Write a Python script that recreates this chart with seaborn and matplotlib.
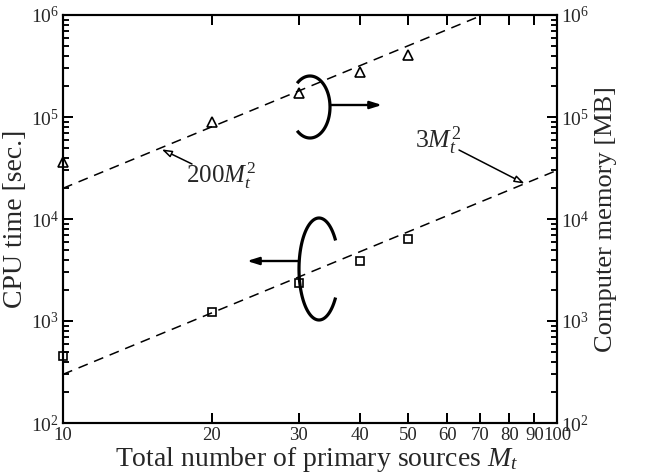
import numpy as np
import matplotlib
matplotlib.use("Agg")
import matplotlib.pyplot as plt
import seaborn as sns
from matplotlib.lines import Line2D

# ---- data ----
sources = [10, 20, 30, 40, 50]
cpu_time = [450, 1220, 2370, 3850, 6350]          # squares, left axis [sec.]
memory = [36500, 90000, 171000, 276000, 405000]   # triangles, right axis [MB]
fit_x = [10, 100]
cpu_fit = [300, 30000]        # 3 M_t^2
mem_fit = [20000, 2000000]    # 200 M_t^2
x_ticks = [10, 20, 30, 40, 50, 60, 70, 80, 90, 100]
x_tick_labels = ["10", "20", "30", "40", "50", "60", "70", "80", "90", "100"]
y_major = [1e2, 1e3, 1e4, 1e5, 1e6]
y_minor = [k * 10.0 ** e for e in range(2, 6) for k in range(2, 10)]

sns.set_style("ticks")
plt.rcParams['font.family'] = ['Liberation Serif', 'DejaVu Serif']
plt.rcParams['mathtext.fontset'] = 'custom'
plt.rcParams['mathtext.rm'] = 'Liberation Serif'
plt.rcParams['mathtext.it'] = 'Liberation Serif:italic'
plt.rcParams['mathtext.bf'] = 'Liberation Serif:bold'
plt.rcParams['axes.axisbelow'] = False

W, H = 656, 473
fig = plt.figure(figsize=(W / 100, H / 100), dpi=100)
ax = fig.add_axes([63 / W, 50 / H, 494 / W, 408 / H])
ax.set_xscale('log')
ax.set_yscale('log')
ax.set_xlim(10, 100)
ax.set_ylim(1e2, 1e6)

dash = (0, (6.5, 4.5))
sns.lineplot(x=fit_x, y=cpu_fit, ax=ax, color='black', lw=1.1, linestyle=dash)
sns.lineplot(x=sources, y=cpu_time, ax=ax, color='black', marker='s', linestyle='',
             markersize=6, markerfacecolor='none', markeredgecolor='black',
             markeredgewidth=1.2, clip_on=False)

ax2 = ax.twinx()
ax2.set_yscale('log')
ax2.set_ylim(1e2, 1e6)
sns.lineplot(x=fit_x, y=mem_fit, ax=ax2, color='black', lw=1.1, linestyle=dash)
sns.lineplot(x=sources, y=memory, ax=ax2, color='black', marker='^', linestyle='',
             markersize=6.5, markerfacecolor='none', markeredgecolor='black',
             markeredgewidth=1.2, clip_on=False)

# axis ticks
ax.set_xticks(x_ticks, labels=x_tick_labels)
ax.set_xticks([], minor=True)
for a in (ax, ax2):
    a.set_yticks(y_major)
    a.set_yticks(y_minor, minor=True)
    a.set_ylim(1e2, 1e6)
ax.set_xlim(10, 100)
ax2.patch.set_visible(False)

ax.xaxis.set_tick_params(which='major', direction='in', top=True, bottom=True,
                         length=7, width=1.4, pad=3, labelsize=13.5, color='black')
ax.yaxis.set_tick_params(which='major', direction='in', left=True, right=False,
                         length=7, width=1.4, pad=3, labelsize=14, color='black')
ax.yaxis.set_tick_params(which='minor', direction='in', left=True, right=False,
                         length=4, width=1.1, color='black')
ax2.yaxis.set_tick_params(which='major', direction='in', right=True, left=False,
                          length=7, width=1.4, pad=3, labelsize=14, color='black')
ax2.yaxis.set_tick_params(which='minor', direction='in', right=True, left=False,
                          length=4, width=1.1, color='black')

# inward tick marks drawn as tick markers at the tick values (robust fallback)
n_x = len(x_ticks)
ax.plot(x_ticks, [y_major[0]] * n_x, ls='', marker=2, ms=7, mew=1.4,
        color='black', clip_on=False, zorder=6)
ax.plot(x_ticks, [y_major[-1]] * n_x, ls='', marker=3, ms=7, mew=1.4,
        color='black', clip_on=False, zorder=6)
ax.plot([x_ticks[0]] * len(y_major), y_major, ls='', marker=1, ms=7, mew=1.4,
        color='black', clip_on=False, zorder=6)
ax.plot([x_ticks[-1]] * len(y_major), y_major, ls='', marker=0, ms=7, mew=1.4,
        color='black', clip_on=False, zorder=6)
ax.plot([x_ticks[0]] * len(y_minor), y_minor, ls='', marker=1, ms=4, mew=1.1,
        color='black', clip_on=False, zorder=6)
ax.plot([x_ticks[-1]] * len(y_minor), y_minor, ls='', marker=0, ms=4, mew=1.1,
        color='black', clip_on=False, zorder=6)
ax.set_xlim(10, 100)
ax.set_ylim(1e2, 1e6)

for a in (ax, ax2):
    for s in a.spines.values():
        s.set_linewidth(1.5)
        s.set_color('black')

ax.set_xlabel("Total number of primary sources $M_t$", fontsize=20, labelpad=0)
ax.xaxis.set_label_coords(0.513, -0.055)
ax.xaxis.label.set_va('top')
ax.set_ylabel("CPU time [sec.]", fontsize=20, labelpad=2)
ax2.set_ylabel("Computer memory [MB]", fontsize=19, labelpad=4)


def px(x, y):
    return (x / W, 1 - y / H)


# rotation brackets
t = np.radians(np.linspace(34, 326, 120))
xs = 319 + 20 * np.cos(t)
ys = 269 - 51 * np.sin(t)
fig.add_artist(Line2D(xs / W, 1 - ys / H, color='black', lw=2.3,
                      transform=fig.transFigure, solid_capstyle='butt'))
t = np.radians(np.linspace(-130, 130, 120))
xs = 310 + 20 * np.cos(t)
ys = 107 - 31 * np.sin(t)
fig.add_artist(Line2D(xs / W, 1 - ys / H, color='black', lw=2.3,
                      transform=fig.transFigure, solid_capstyle='butt'))

# bracket arrows
ax.annotate("", xy=px(247, 261), xytext=px(299, 261), xycoords='figure fraction',
            textcoords='figure fraction',
            arrowprops=dict(arrowstyle='-|>,head_length=0.7,head_width=0.22',
                            color='black', lw=1.7, shrinkA=0, shrinkB=0))
ax.annotate("", xy=px(382, 105), xytext=px(330, 105), xycoords='figure fraction',
            textcoords='figure fraction',
            arrowprops=dict(arrowstyle='-|>,head_length=0.7,head_width=0.22',
                            color='black', lw=1.7, shrinkA=0, shrinkB=0))

# fit annotations
ax.annotate("", xy=(15.84, 48200), xycoords='data', xytext=px(192, 164),
            textcoords='figure fraction',
            arrowprops=dict(arrowstyle='-|>,head_length=0.6,head_width=0.2',
                            fc='white', ec='black', lw=1.1, shrinkA=0, shrinkB=0))
fig.text(*px(186, 176), "$200M_t^2$", fontsize=18, ha='left', va='center')

ax.annotate("", xy=(86, 22200), xycoords='data', xytext=px(459, 150),
            textcoords='figure fraction',
            arrowprops=dict(arrowstyle='-|>,head_length=0.6,head_width=0.2',
                            fc='white', ec='black', lw=1.1, shrinkA=0, shrinkB=0))
fig.text(*px(415, 141), "$3M_t^2$", fontsize=18.5, ha='left', va='center')

fig.canvas.draw()
fig.savefig("out.png", dpi=100)
